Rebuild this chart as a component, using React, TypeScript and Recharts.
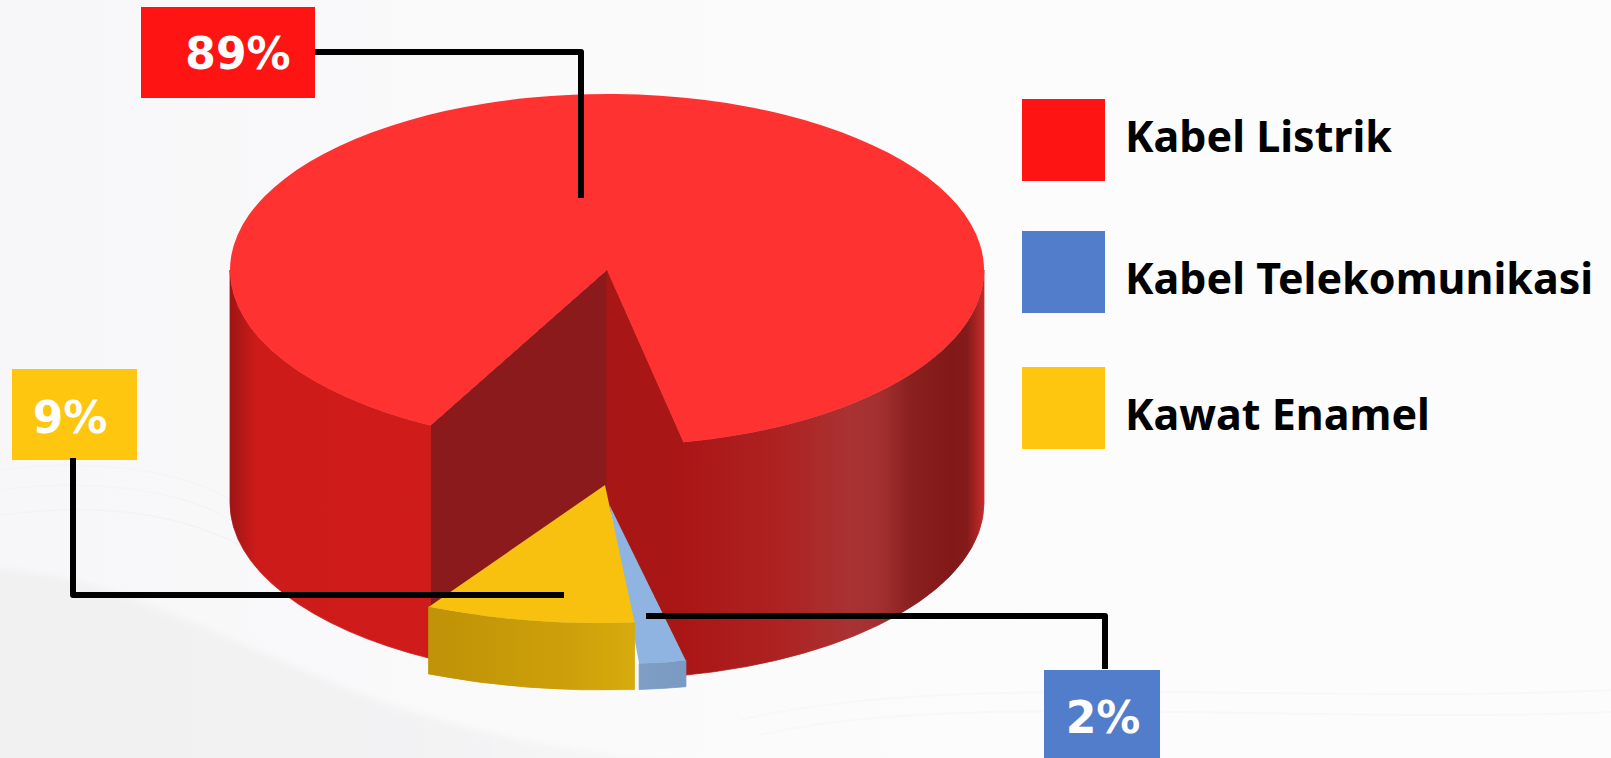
import { Legend, Pie, PieChart } from "recharts";

const categories = ["Kabel Listrik", "Kabel Telekomunikasi", "Kawat Enamel"];
const shares = [89, 2, 9];
const legendColors = ["#FF1414", "#527DCB", "#FFC60F"];

const data = categories.map((name, i) => ({ name, value: shares[i], fill: legendColors[i] }));

const FONT = "'Noto Sans', sans-serif";
const LABEL_FONT = "'DejaVu Sans', sans-serif";
const RADIUS = 377;

// each slice has its own tilt and thickness, the two small ones are pulled out of the pie
const sliceLook = [
  {
    apexX: 607,
    apexY: 270,
    tilt: 176 / 377,
    depth: 233,
    top: "#FF3232",
    startFace: "#8A1A1B",
    endFace: "#A91616",
    wall: [
      [230, "#9E1514"],
      [256, "#CD1B1A"],
      [430, "#CF1C1A"],
      [683, "#AA1616"],
      [780, "#AE2222"],
      [850, "#A93232"],
      [880, "#A33030"],
      [910, "#8A2020"],
      [950, "#821818"],
      [967, "#851A1A"],
      [984, "#C62B2B"],
    ],
  },
  {
    apexX: 609.5,
    apexY: 505,
    tilt: 159 / 377,
    depth: 26,
    top: "#8FB4E2",
    wall: [
      [639, "#7F9DC5"],
      [686, "#7A9AC2"],
    ],
  },
  {
    apexX: 605,
    apexY: 485,
    tilt: 138 / 377,
    depth: 67,
    top: "#F8C00F",
    wall: [
      [427, "#BF9208"],
      [560, "#CC9F0A"],
      [634, "#D7AA0D"],
    ],
  },
];

const callouts = [
  { box: [141, 7, 174, 91], textX: 238, baseline: 69, leader: "315,52 581,52 581,198" },
  { box: [1044, 670, 116, 88], textX: 1103, baseline: 733, leader: "646,616 1105,616 1105,669" },
  { box: [12, 369, 125, 91], textX: 70, baseline: 433, leader: "73,458 73,595 564,595" },
];

const legendTops = [99, 231, 367];
const legendTextTops = [104, 246, 382];

function Slice3D(props: any) {
  const i = categories.indexOf(props.name);
  const look = sliceLook[i];
  const { apexX, apexY, tilt, depth } = look;
  const rx = props.outerRadius;
  const ry = rx * tilt;
  const s = props.startAngle;
  const e = props.endAngle;
  const pt = (deg: number, down = 0) => {
    const r = (deg * Math.PI) / 180;
    return `${apexX + rx * Math.cos(r)} ${apexY - ry * Math.sin(r) + down}`;
  };
  const xs = look.wall.map((w: any) => w[0]);
  const x0 = xs[0];
  const x1 = xs[xs.length - 1];
  const gradId = `wall-${i}`;

  // the parts of the rim that face the viewer
  const walls: string[] = [];
  for (const k of [-1, 0, 1]) {
    const a1 = Math.min(s, 360 + 360 * k);
    const a2 = Math.max(e, 180 + 360 * k);
    if (a1 > a2) {
      const large = a1 - a2 > 180 ? 1 : 0;
      walls.push(
        `M${pt(a1)} A${rx} ${ry} 0 ${large} 1 ${pt(a2)} L${pt(a2, depth)} A${rx} ${ry} 0 ${large} 0 ${pt(a1, depth)} Z`,
      );
    }
  }
  const large = s - e > 180 ? 1 : 0;

  return (
    <g>
      <defs>
        <linearGradient id={gradId} gradientUnits="userSpaceOnUse" x1={x0} x2={x1} y1={0} y2={0}>
          {look.wall.map((w: any) => (
            <stop key={w[0]} offset={(w[0] - x0) / (x1 - x0)} stopColor={w[1]} />
          ))}
        </linearGradient>
      </defs>
      {look.startFace && (
        <path
          d={`M${apexX} ${apexY} L${pt(s)} L${pt(s, depth)} L${apexX} ${apexY + depth} Z`}
          fill={look.startFace}
          stroke={look.startFace}
        />
      )}
      {look.endFace && (
        <path
          d={`M${apexX} ${apexY} L${pt(e)} L${pt(e, depth)} L${apexX} ${apexY + depth} Z`}
          fill={look.endFace}
          stroke={look.endFace}
        />
      )}
      {/* the stroke hides the hairline seams between the faces */}
      {walls.map((d) => (
        <path key={d} d={d} fill={`url(#${gradId})`} stroke={`url(#${gradId})`} strokeWidth={0.8} />
      ))}
      <path d={`M${apexX} ${apexY} L${pt(s)} A${rx} ${ry} 0 ${large} 1 ${pt(e)} Z`} fill={look.top} />
    </g>
  );
}

function Callout(props: any) {
  const i = categories.indexOf(props.name);
  const c = callouts[i];
  return (
    <g>
      <rect x={c.box[0]} y={c.box[1]} width={c.box[2]} height={c.box[3]} fill={legendColors[i]} />
      <polyline points={c.leader} fill="none" stroke="#000" strokeWidth={6} strokeLinejoin="round" />
      <text
        x={c.textX}
        y={c.baseline}
        textAnchor="middle"
        fill="#fff"
        fontFamily={LABEL_FONT}
        fontWeight={700}
        fontSize={44}
      >
        {props.value}%
      </text>
    </g>
  );
}

function LegendList(props: any) {
  return (
    <div style={{ position: "relative", width: 589, height: 450 }}>
      {props.payload.map((item: any, i: number) => (
        <div key={item.value}>
          <div
            style={{ position: "absolute", left: 0, top: legendTops[i], width: 83, height: 82, background: legendColors[i] }}
          />
          <div
            style={{
              position: "absolute",
              left: 103,
              top: legendTextTops[i],
              lineHeight: "64px",
              whiteSpace: "nowrap",
              fontFamily: FONT,
              fontWeight: 700,
              fontSize: 43,
              color: "#000",
            }}
          >
            {item.value}
          </div>
        </div>
      ))}
    </div>
  );
}

export default function App() {
  return (
    <div
      style={{
        position: "absolute",
        left: 0,
        top: 0,
        width: 1611,
        height: 758,
        overflow: "hidden",
        background: "linear-gradient(90deg, #F7F7F9 0%, #FAFAFB 35%, #FCFCFC 65%)",
      }}
    >
      {/* faint swoosh of the slide background */}
      <svg width={1611} height={758} style={{ position: "absolute", left: 0, top: 0 }}>
        <defs>
          <linearGradient id="swoosh" x1={0} x2={1} y1={0} y2={0}>
            <stop offset={0} stopColor="#F1F1F2" />
            <stop offset={0.6} stopColor="#F3F3F4" />
            <stop offset={1} stopColor="#F8F8F9" />
          </linearGradient>
          <filter id="soft">
            <feGaussianBlur stdDeviation={3} />
          </filter>
        </defs>
        <path
          d="M-10 568 C130 575 230 650 420 715 C520 745 640 760 760 770 L-10 770 Z"
          fill="url(#swoosh)"
          filter="url(#soft)"
        />
        <path d="M0 470 C120 455 200 480 230 500" fill="none" stroke="#F4F4F6" strokeWidth={1.5} />
        <path d="M0 490 C120 475 200 500 230 520" fill="none" stroke="#F4F4F6" strokeWidth={1.5} />
        <path d="M0 515 C120 500 190 520 240 545" fill="none" stroke="#F3F3F5" strokeWidth={1.5} />
        <path d="M740 720 C950 670 1300 705 1611 690" fill="none" stroke="#F8F8F8" strokeWidth={2} />
        <path d="M760 735 C950 690 1300 725 1611 712" fill="none" stroke="#F8F8F8" strokeWidth={2} />
      </svg>
      <PieChart width={1611} height={758} margin={{ top: 0, right: 0, bottom: 0, left: 0 }} style={{ position: "absolute" }}>
        <Pie
          data={data}
          dataKey="value"
          nameKey="name"
          cx={607}
          cy={270}
          outerRadius={RADIUS}
          startAngle={242.1}
          endAngle={-117.9}
          stroke="none"
          shape={Slice3D}
          label={Callout}
          labelLine={false}
          isAnimationActive={false}
        />
        <Legend
          content={LegendList}
          wrapperStyle={{ position: "absolute", left: 1022, top: 0, width: 589, bottom: "auto", right: "auto" }}
        />
      </PieChart>
    </div>
  );
}
